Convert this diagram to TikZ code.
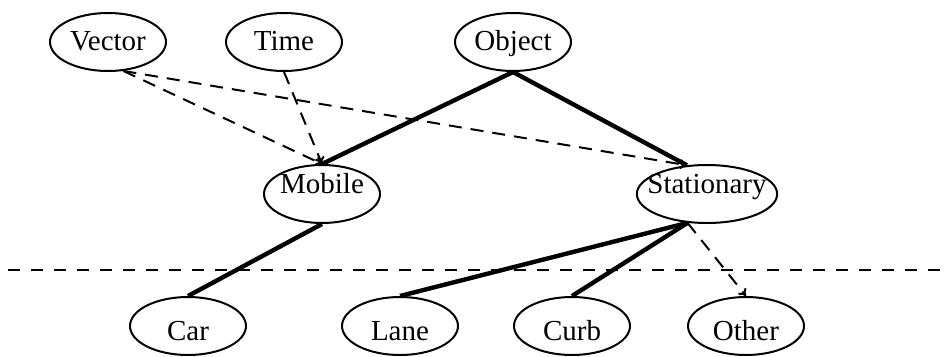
\documentclass[tikz,border=0pt]{standalone}
\usepackage{fontspec}
\setmainfont{Liberation Serif}
\usetikzlibrary{shapes.geometric, arrows.meta}

\begin{document}
\begin{tikzpicture}[x=1pt, y=-1pt, font=\fontsize{29}{31}\selectfont,
  concept/.style={draw, ellipse, line width=2pt, minimum width=116pt,
    minimum height=58pt, inner xsep=-10pt, inner ysep=0pt,
    text height=22pt, text depth=6pt},
  raised/.style={text height=20pt, text depth=21pt},
  lowered/.style={text height=28pt, text depth=0pt},
  isa/.style={line width=4.4pt},
  uses/.style={line width=2pt, dash pattern=on 13pt off 9pt,
    -{To[length=7pt, width=10pt]}},
  level/.style={line width=1.8pt, dash pattern=on 12pt off 11pt}]

  \useasboundingbox (0,0) rectangle (950,356);

  %% ================= TOP ROW ==================
  \node[concept] (vector) at (108,42) {Vector};
  \node[concept] (time)   at (284,42) {Time};
  \node[concept] (object) at (513,42) {Object};

  %% ================= MIDDLE ROW ===============
  \node[concept, raised] (mobile)     at (322,194) {Mobile};
  \node[concept, raised] (stationary) at (707,194) {Stationary};

  %% ================= BOTTOM ROW ===============
  \node[concept, lowered] (car)   at (188,326) {Car};
  \node[concept, lowered] (lane)  at (400,326) {Lane};
  \node[concept, lowered] (curb)  at (572,326) {Curb};
  \node[concept, lowered] (other) at (746,326) {Other};

  % separator between the two levels
  \draw[level] (8,270) -- (950,270);

  % is-a links
  \draw[isa] (object.south) -- (mobile.north);
  \draw[isa] (object.south) -- (stationary.125);
  \draw[isa] (mobile.south) -- (car.north);
  \draw[isa] (stationary.236) -- (lane.north);
  \draw[isa] (stationary.236) -- (curb.north);

  % dependency links
  \draw[uses] (vector.298) -- (mobile.north);
  \draw[uses] (time.south) -- (mobile.north);
  \draw[uses] (vector.298) -- (stationary.125);
  \draw[uses] (stationary.236) -- (other.north);

\end{tikzpicture}
\end{document}
